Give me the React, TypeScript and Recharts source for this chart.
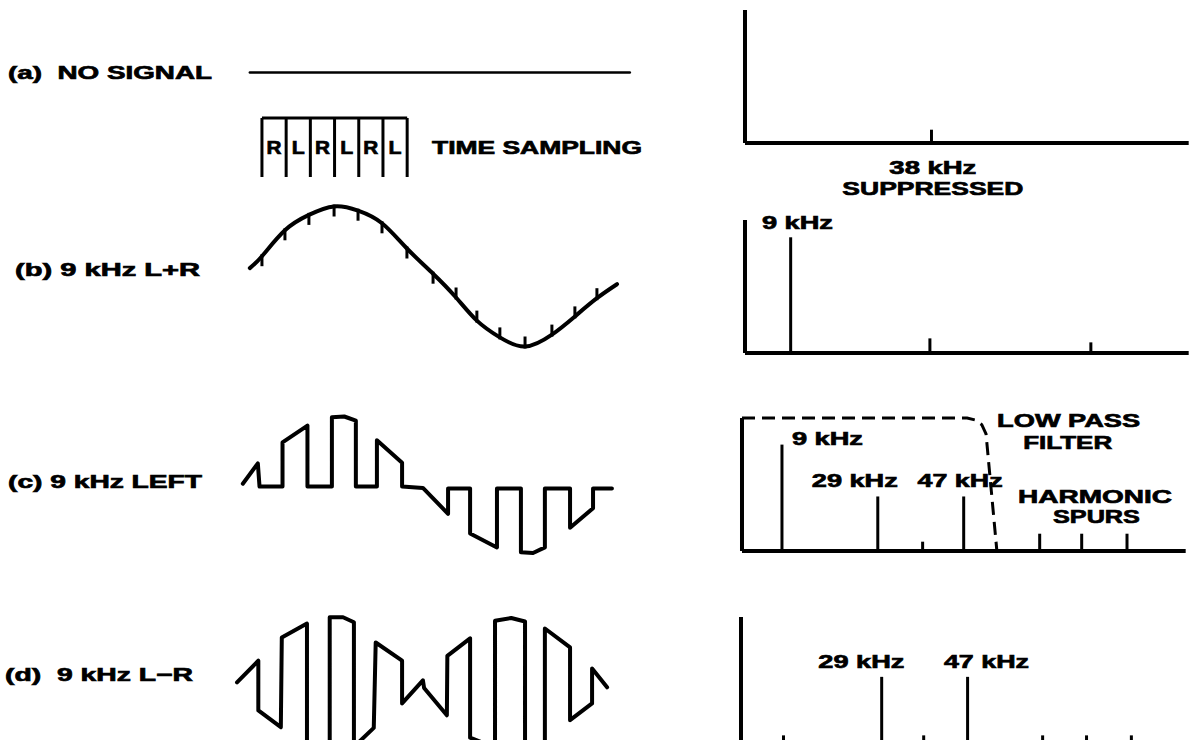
import React from "react";
import {
  Bar,
  ComposedChart,
  Line,
  ReferenceDot,
  ReferenceLine,
  XAxis,
  YAxis,
} from "recharts";

// time is counted in multiplex slots (one R or L sample each),
// v is the signal relative to the 9 kHz peak
const noSignal = [
  { t: -0.5, v: 0 },
  { t: 15.2, v: 0 },
];

const slotEdges = [0, 1, 2, 3, 4, 5, 6];
const slotNames = ["R", "L", "R", "L", "R", "L"];
const slotTop = [
  { t: 0, v: 1 },
  { t: 6, v: 1 },
];

const sumWave = [
  { t: -0.5, v: 0.12 },
  { t: 0, v: 0.29 },
  { t: 0.95, v: 0.66 },
  { t: 1.94, v: 0.88 },
  { t: 2.98, v: 1.0 },
  { t: 3.97, v: 0.94 },
  { t: 4.96, v: 0.76 },
  { t: 5.99, v: 0.4 },
  { t: 7.07, v: 0.04 },
  { t: 8.02, v: -0.3 },
  { t: 8.88, v: -0.63 },
  { t: 9.83, v: -0.87 },
  { t: 10.87, v: -1.0 },
  { t: 11.98, v: -0.83 },
  { t: 12.93, v: -0.57 },
  { t: 13.84, v: -0.31 },
  { t: 14.67, v: -0.11 },
];
// the little sample marks sit on every read point except the two ends
const sampleMarks = sumWave.slice(1, -1);

const leftWave = [
  { t: -0.79, v: 0.04 },
  { t: -0.17, v: 0.33 },
  { t: -0.1, v: 0 },
  { t: 0.85, v: 0 },
  { t: 0.85, v: 0.63 },
  { t: 1.88, v: 0.87 },
  { t: 1.88, v: 0 },
  { t: 2.89, v: 0 },
  { t: 2.89, v: 0.99 },
  { t: 3.4, v: 1.0 },
  { t: 3.88, v: 0.94 },
  { t: 3.88, v: 0 },
  { t: 4.75, v: 0 },
  { t: 4.75, v: 0.66 },
  { t: 5.79, v: 0.34 },
  { t: 5.79, v: 0 },
  { t: 6.65, v: -0.02 },
  { t: 7.69, v: -0.39 },
  { t: 7.69, v: -0.03 },
  { t: 8.6, v: -0.03 },
  { t: 8.6, v: -0.67 },
  { t: 9.71, v: -0.87 },
  { t: 9.71, v: -0.03 },
  { t: 10.7, v: -0.03 },
  { t: 10.7, v: -0.94 },
  { t: 11.2, v: -0.95 },
  { t: 11.69, v: -0.87 },
  { t: 11.69, v: -0.03 },
  { t: 12.73, v: -0.03 },
  { t: 12.73, v: -0.59 },
  { t: 13.68, v: -0.31 },
  { t: 13.68, v: -0.03 },
  { t: 14.46, v: -0.03 },
];

const diffWave = [
  { t: -1.03, v: 0.03 },
  { t: -0.15, v: 0.34 },
  { t: -0.15, v: -0.37 },
  { t: 0.78, v: -0.61 },
  { t: 0.82, v: 0.67 },
  { t: 1.86, v: 0.87 },
  { t: 1.86, v: -0.87 },
  { t: 2.4, v: -0.97 },
  { t: 2.8, v: -0.99 },
  { t: 2.8, v: 0.96 },
  { t: 3.35, v: 0.96 },
  { t: 3.8, v: 0.89 },
  { t: 3.8, v: -0.89 },
  { t: 4.62, v: -0.62 },
  { t: 4.7, v: 0.6 },
  { t: 5.79, v: 0.34 },
  { t: 5.79, v: -0.27 },
  { t: 6.65, v: 0.06 },
  { t: 6.7, v: -0.05 },
  { t: 7.64, v: -0.44 },
  { t: 7.66, v: 0.41 },
  { t: 8.6, v: 0.66 },
  { t: 8.6, v: -0.76 },
  { t: 9.63, v: -0.9 },
  { t: 9.63, v: 0.91 },
  { t: 10.3, v: 0.95 },
  { t: 10.87, v: 0.9 },
  { t: 10.87, v: -0.89 },
  { t: 11.3, v: -0.95 },
  { t: 11.69, v: -0.87 },
  { t: 11.69, v: 0.8 },
  { t: 12.73, v: 0.53 },
  { t: 12.73, v: -0.51 },
  { t: 13.64, v: -0.27 },
  { t: 13.64, v: 0.23 },
  { t: 14.26, v: -0.04 },
];

// spectra: f in kHz along the drawn axis, a relative to the axis height
const spectrumA = [{ f: 39.4, a: 0.1 }];
const spectrumB = [
  { f: 9.7, a: 0.87 },
  { f: 39.2, a: 0.11 },
  { f: 73.3, a: 0.08 },
];
const spectrumC = [
  { f: 8.5, a: 0.8 },
  { f: 28.8, a: 0.41 },
  { f: 38.3, a: 0.07 },
  { f: 47.0, a: 0.41 },
  { f: 63.1, a: 0.13 },
  { f: 72.0, a: 0.13 },
  { f: 81.6, a: 0.13 },
];
const spectrumD = [
  { f: 8.9, a: 0.11 },
  { f: 29.7, a: 0.55 },
  { f: 38.6, a: 0.11 },
  { f: 47.9, a: 0.55 },
  { f: 63.8, a: 0.11 },
  { f: 73.1, a: 0.11 },
  { f: 82.6, a: 0.11 },
];
const lowPass = [
  { f: 0, a: 1 },
  { f: 47.7, a: 1 },
  { f: 49.4, a: 0.985 },
  { f: 50.8, a: 0.95 },
  { f: 51.7, a: 0.88 },
  { f: 54, a: 0 },
];

const notesA = [
  { f: 39.8, a: -0.18, text: "38 kHz" },
  { f: 39.8, a: -0.34, text: "SUPPRESSED" },
];
const notesB = [{ f: 11.1, a: 0.985, text: "9 kHz" }];
const notesC = [
  { f: 69.2, a: 0.985, text: "LOW PASS" },
  { f: 69.0, a: 0.82, text: "FILTER" },
  { f: 18.1, a: 0.85, text: "9 kHz" },
  { f: 23.9, a: 0.53, text: "29 kHz" },
  { f: 46.2, a: 0.53, text: "47 kHz" },
  { f: 74.8, a: 0.41, text: "HARMONIC" },
  { f: 75.1, a: 0.26, text: "SPURS" },
];
const notesD = [
  { f: 25.5, a: 0.67, text: "29 kHz" },
  { f: 52.0, a: 0.67, text: "47 kHz" },
];

// drawn width of each lettering (the original face is an extended grotesque)
const TEXT_WIDTH: Record<string, number> = {
  "(a)  NO SIGNAL": 204,
  "(b) 9 kHz L+R": 185,
  "(c) 9 kHz LEFT": 194,
  "(d)  9 kHz L−R": 188,
  "TIME SAMPLING": 210,
  "38 kHz": 87,
  SUPPRESSED: 181,
  "9 kHz": 71,
  "LOW PASS": 143,
  FILTER: 89,
  "29 kHz": 86,
  "47 kHz": 85,
  HARMONIC: 154,
  SPURS: 87,
  R: 15,
  L: 13,
};

const rowTitles = [
  { text: "(a)  NO SIGNAL", x: 8, y: 72 },
  { text: "TIME SAMPLING", x: 432, y: 147 },
  { text: "(b) 9 kHz L+R", x: 15, y: 269 },
  { text: "(c) 9 kHz LEFT", x: 8, y: 481 },
  { text: "(d)  9 kHz L−R", x: 5, y: 674 },
];

const FONT: React.CSSProperties = {
  fontFamily: "'Liberation Sans', Arial, sans-serif",
  fontWeight: 700,
  fontSize: 19,
  whiteSpace: "pre",
};
const CAP_HALF = 6.8;

const WAVE_LEFT = 230;
const WAVE_W = 410;
const WAVE_H = 175;
const PAD = 12;
const T_DOMAIN: [number, number] = [-1.32, 15.62];
const V_DOMAIN: [number, number] = [-1.25, 1.25];

const SPEC_W = 443.7;
const SPEC_H = 133;
const SM = { top: 24, right: 12, bottom: 64, left: 12 };

function Lettering({ x, y, text, anchor = "middle" }: { x: number; y: number; text: string; anchor?: "start" | "middle" }) {
  return (
    <text
      x={x}
      y={y + CAP_HALF}
      textAnchor={anchor}
      textLength={TEXT_WIDTH[text]}
      lengthAdjust="spacingAndGlyphs"
      fill="#000"
      stroke="#000"
      strokeWidth={0.7}
      style={FONT}
    >
      {text}
    </text>
  );
}

const noteShape = (text: string) => (p: any) => <Lettering x={p.cx} y={p.cy} text={text} />;

function SampleMark(p: any) {
  const dir = p.payload.v >= 0 ? 1 : -1;
  return (
    <line
      key={p.index}
      x1={p.cx}
      x2={p.cx}
      y1={p.cy - 2 * dir}
      y2={p.cy + 10 * dir}
      stroke="#000"
      strokeWidth={3}
    />
  );
}

function WaveChart({
  data,
  centerY,
  width = 4,
  curve = "linear",
  marks,
}: {
  data: { t: number; v: number }[];
  centerY: number;
  width?: number;
  curve?: "linear" | "natural";
  marks?: { t: number; v: number }[];
}) {
  return (
    <div style={{ position: "absolute", left: WAVE_LEFT - PAD, top: centerY - WAVE_H / 2 - PAD }}>
      <ComposedChart
        width={WAVE_W + 2 * PAD}
        height={WAVE_H + 2 * PAD}
        data={data}
        margin={{ top: PAD, right: PAD, bottom: PAD, left: PAD }}
      >
        <XAxis type="number" dataKey="t" domain={T_DOMAIN} hide />
        <YAxis type="number" domain={V_DOMAIN} hide />
        <Line
          type={curve}
          dataKey="v"
          stroke="#000"
          strokeWidth={width}
          strokeLinejoin="round"
          strokeLinecap="round"
          dot={false}
          activeDot={false}
          isAnimationActive={false}
        />
        {marks && (
          <Line
            data={marks}
            dataKey="v"
            stroke="none"
            dot={SampleMark}
            activeDot={false}
            isAnimationActive={false}
          />
        )}
      </ComposedChart>
    </div>
  );
}

function SlotChart() {
  const top = 118;
  const h = 59;
  return (
    <div style={{ position: "absolute", left: WAVE_LEFT - PAD, top: top - PAD }}>
      <ComposedChart
        width={WAVE_W + 2 * PAD}
        height={h + 2 * PAD}
        data={slotTop}
        margin={{ top: PAD, right: PAD, bottom: PAD, left: PAD }}
      >
        <XAxis type="number" dataKey="t" domain={T_DOMAIN} hide />
        <YAxis type="number" domain={[0, 1]} hide />
        {slotEdges.map((e) => (
          <ReferenceLine key={e} x={e} stroke="#000" strokeWidth={3} />
        ))}
        <Line dataKey="v" stroke="#000" strokeWidth={3} dot={false} activeDot={false} isAnimationActive={false} />
        {slotNames.map((s, i) => (
          <ReferenceDot
            key={i}
            x={slotEdges[i] + 0.5}
            y={0.5}
            r={0}
            ifOverflow="visible"
            shape={noteShape(s)}
          />
        ))}
      </ComposedChart>
    </div>
  );
}

function Spectrum({
  data,
  notes,
  axisX,
  axisTop,
  filter,
}: {
  data: { f: number; a: number }[];
  notes: { f: number; a: number; text: string }[];
  axisX: number;
  axisTop: number;
  filter?: { f: number; a: number }[];
}) {
  return (
    <div style={{ position: "absolute", left: axisX - SM.left, top: axisTop - SM.top }}>
      <ComposedChart
        width={SPEC_W + SM.left + SM.right}
        height={SPEC_H + SM.top + SM.bottom}
        data={data}
        margin={SM}
      >
        <XAxis type="number" dataKey="f" domain={[0, 94]} hide />
        <YAxis type="number" domain={[0, 1]} hide />
        <ReferenceLine x={0} stroke="#000" strokeWidth={4} />
        <ReferenceLine y={0} stroke="#000" strokeWidth={4} />
        <Bar dataKey="a" fill="#000" barSize={3} isAnimationActive={false} />
        {filter && (
          <Line
            data={filter}
            dataKey="a"
            type="linear"
            stroke="#000"
            strokeWidth={3}
            strokeDasharray="13 7"
            dot={false}
            activeDot={false}
            isAnimationActive={false}
          />
        )}
        {notes.map((n) => (
          <ReferenceDot
            key={n.text}
            x={n.f}
            y={n.a}
            r={0}
            ifOverflow="visible"
            shape={noteShape(n.text)}
          />
        ))}
      </ComposedChart>
    </div>
  );
}

export default function App() {
  return (
    <div
      style={{
        position: "absolute",
        left: 0,
        top: 0,
        width: 1191,
        height: 740,
        background: "#fff",
        overflow: "hidden",
      }}
    >
      <svg width={1191} height={740} style={{ position: "absolute", left: 0, top: 0 }}>
        {rowTitles.map((r) => (
          <Lettering key={r.text} x={r.x} y={r.y} text={r.text} anchor="start" />
        ))}
      </svg>

      <WaveChart data={noSignal} centerY={72} width={2.5} />
      <SlotChart />
      <WaveChart data={sumWave} centerY={276} curve="natural" marks={sampleMarks} />
      <WaveChart data={leftWave} centerY={486} />
      <WaveChart data={diffWave} centerY={684} />

      <Spectrum data={spectrumA} notes={notesA} axisX={745} axisTop={10} />
      <Spectrum data={spectrumB} notes={notesB} axisX={745} axisTop={220} />
      <Spectrum data={spectrumC} notes={notesC} axisX={742} axisTop={418} filter={lowPass} />
      <Spectrum data={spectrumD} notes={notesD} axisX={741} axisTop={617} />
    </div>
  );
}
